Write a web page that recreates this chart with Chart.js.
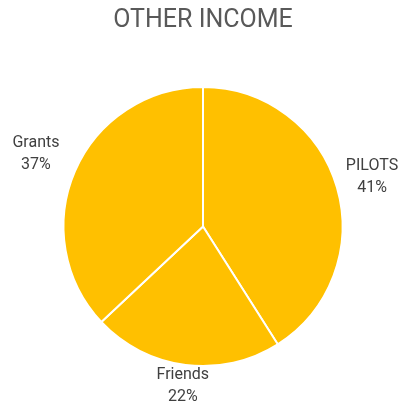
<!DOCTYPE html>
<html>
<head>
<meta charset="utf-8">
<script src="https://cdn.jsdelivr.net/npm/chart.js@4.4.1/dist/chart.umd.min.js"></script>
<style>
  html, body { margin: 0; padding: 0; background: #ffffff; }
  #wrap { width: 401px; height: 407px; }
</style>
</head>
<body>
<div id="wrap"><canvas id="incomeChart"></canvas></div>
<script>
// data
const categories = ['PILOTS', 'Friends', 'Grants'];
const percentValues = [41, 22, 37];
// distance of each label from the pie centre (px)
const labelDist = [176, 161, 182];

document.addEventListener('DOMContentLoaded', function() {
    const ctx = document.getElementById('incomeChart');

    // draws "name / xx%" outside each slice
    const outsideLabels = {
        id: 'outsideLabels',
        afterDatasetsDraw(chart) {
            const c = chart.ctx;
            const meta = chart.getDatasetMeta(0);
            c.save();
            c.font = '16px Roboto';
            c.fillStyle = '#404040';
            c.textAlign = 'center';
            c.textBaseline = 'middle';
            meta.data.forEach(function(arc, i) {
                const p = arc.getProps(['x', 'y', 'startAngle', 'endAngle'], true);
                const mid = (p.startAngle + p.endAngle) / 2;
                const lx = p.x + Math.cos(mid) * labelDist[i];
                const ly = p.y + Math.sin(mid) * labelDist[i];
                c.fillText(categories[i], lx, ly - 11);
                c.fillText(percentValues[i] + '%', lx, ly + 11);
            });
            c.restore();
        }
    };

    new Chart(ctx.getContext('2d'), {
        type: 'pie',
        data: {
            labels: categories,
            datasets: [{
                data: percentValues,
                backgroundColor: '#FFC000',
                borderColor: '#ffffff',
                borderWidth: 2
            }]
        },
        options: {
            responsive: true,
            maintainAspectRatio: false,
            animation: { duration: 0 },
            layout: {
                padding: { left: 62, right: 57, top: 0, bottom: 40 }
            },
            plugins: {
                legend: { display: false },
                tooltip: { enabled: false },
                title: {
                    display: true,
                    text: 'OTHER INCOME',
                    color: '#595959',
                    font: { family: 'Roboto', size: 25, weight: 'normal' },
                    padding: { top: 6, bottom: 50 }
                }
            }
        },
        plugins: [outsideLabels]
    });
});
</script>
</body>
</html>
